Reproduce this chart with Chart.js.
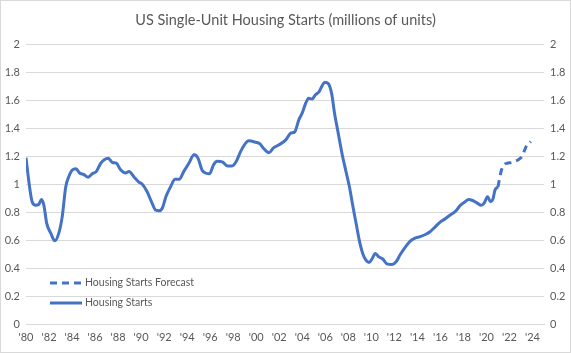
<!DOCTYPE html>
<html>
<head>
<meta charset="utf-8">
<script src="https://cdn.jsdelivr.net/npm/chart.js@4.4.1/dist/chart.umd.min.js"></script>
<style>
  html, body { margin: 0; padding: 0; background: #fff; }
  #wrap { position: relative; width: 571px; height: 353px; }
  #frame { position: absolute; left: 0; top: 0; width: 571px; height: 353px; box-sizing: border-box; border: 1px solid #d9d9d9; pointer-events: none; }
</style>
</head>
<body>
<div id="wrap">
  <canvas id="chart" width="571" height="353"></canvas>
  <div id="frame"></div>
</div>
<script>
// Housing starts (millions of units)
const years = [
  1980.0, 1980.2, 1980.4, 1980.55, 1980.85, 1981.1, 1981.35, 1981.55, 1981.8, 1982.15,
  1982.5, 1982.85, 1983.15, 1983.45, 1983.75, 1984.0, 1984.35, 1984.65, 1985.0, 1985.4,
  1985.75, 1986.1, 1986.5, 1986.8, 1987.15, 1987.5, 1987.85, 1988.2, 1988.65, 1988.95,
  1989.4, 1989.8, 1990.1, 1990.5, 1990.95, 1991.25, 1991.55, 1991.85, 1992.15, 1992.55,
  1992.95, 1993.3, 1993.7, 1994.15, 1994.6, 1994.95, 1995.3, 1995.6, 1995.95, 1996.3,
  1996.6, 1997.05, 1997.5, 1997.9, 1998.25, 1998.65, 1999.05, 1999.35, 1999.95, 2000.3,
  2000.65, 2001.1, 2001.5, 2001.95, 2002.55, 2003.0, 2003.35, 2003.7, 2004.0, 2004.3,
  2004.55, 2004.85, 2005.15, 2005.45, 2005.7, 2005.95, 2006.25, 2006.55, 2006.8, 2007.1,
  2007.45, 2007.8, 2008.1, 2008.4, 2008.7, 2008.95, 2009.25, 2009.55, 2009.8, 2010.05,
  2010.35, 2010.65, 2011.0, 2011.35, 2011.8, 2012.15, 2012.5, 2012.95, 2013.4, 2013.8,
  2014.25, 2014.7, 2015.1, 2015.55, 2016.0, 2016.45, 2016.85, 2017.3, 2017.75, 2018.15,
  2018.45, 2018.75, 2019.2, 2019.55, 2019.8, 2020.1, 2020.35, 2020.55, 2020.75, 2021.0
];
const starts = [
  1.19, 1.05, 0.93, 0.87, 0.85, 0.855, 0.89, 0.85, 0.72, 0.65,
  0.595, 0.65, 0.77, 0.98, 1.06, 1.10, 1.11, 1.08, 1.07, 1.05,
  1.075, 1.09, 1.15, 1.175, 1.185, 1.155, 1.15, 1.105, 1.08, 1.09,
  1.05, 1.015, 1.0, 0.95, 0.865, 0.815, 0.81, 0.83, 0.91, 0.98,
  1.035, 1.035, 1.09, 1.15, 1.21, 1.185, 1.10, 1.08, 1.075, 1.14,
  1.165, 1.16, 1.13, 1.13, 1.16, 1.235, 1.29, 1.31, 1.30, 1.29,
  1.255, 1.225, 1.26, 1.28, 1.315, 1.365, 1.375, 1.46, 1.51, 1.58,
  1.615, 1.61, 1.64, 1.66, 1.70, 1.73, 1.72, 1.65, 1.51, 1.375,
  1.22, 1.09, 0.98, 0.84, 0.71, 0.60, 0.505, 0.455, 0.44, 0.465,
  0.505, 0.48, 0.465, 0.43, 0.425, 0.445, 0.495, 0.55, 0.595, 0.615,
  0.625, 0.64, 0.66, 0.695, 0.73, 0.755, 0.78, 0.805, 0.85, 0.875,
  0.89, 0.885, 0.865, 0.85, 0.865, 0.91, 0.875, 0.89, 0.96, 0.98
];
const forecastYears = [2021.0, 2021.3, 2021.55, 2021.8, 2022.2, 2022.65, 2023.1, 2023.45, 2023.85];
const forecastStarts = [0.98, 1.10, 1.14, 1.15, 1.155, 1.17, 1.20, 1.27, 1.305];

const xTickYears = [1980, 1982, 1984, 1986, 1988, 1990, 1992, 1994, 1996, 1998, 2000,
  2002, 2004, 2006, 2008, 2010, 2012, 2014, 2016, 2018, 2020, 2022, 2024];
const yTicks = [0, 0.2, 0.4, 0.6, 0.8, 1, 1.2, 1.4, 1.6, 1.8, 2];

const blue = '#4472c4';
const textColor = '#595959';
const gridColor = '#d9d9d9';
const fontFamily = 'Lato, "Open Sans", sans-serif';

const pts = (xs, ys) => xs.map((x, i) => ({ x: x, y: ys[i] }));
const yLabel = v => String(Math.round(v * 10) / 10);

// legend drawn inside the plot area, bottom-left, like the original
const insideLegend = {
  id: 'insideLegend',
  afterDraw(chart) {
    const ctx = chart.ctx;
    const area = chart.chartArea;
    ctx.save();
    ctx.font = '10.5px ' + fontFamily;
    ctx.textBaseline = 'middle';
    chart.data.datasets.forEach((ds, i) => {
      const y = area.bottom - 41 + i * 20;
      const x0 = area.left + 24;
      ctx.strokeStyle = ds.borderColor;
      ctx.lineWidth = ds.borderWidth;
      ctx.lineCap = 'butt';
      ctx.setLineDash(ds.borderDash || []);
      ctx.beginPath();
      ctx.moveTo(x0, y);
      ctx.lineTo(x0 + 32, y);
      ctx.stroke();
      ctx.setLineDash([]);
      ctx.fillStyle = textColor;
      ctx.fillText(ds.label, x0 + 35, y);
    });
    ctx.restore();
  }
};

new Chart(document.getElementById('chart'), {
  type: 'line',
  data: {
    datasets: [
      {
        label: 'Housing Starts Forecast',
        data: pts(forecastYears, forecastStarts),
        borderColor: blue,
        borderWidth: 3,
        borderDash: [7, 5],
        pointRadius: 0,
        cubicInterpolationMode: 'monotone',
        yAxisID: 'y'
      },
      {
        label: 'Housing Starts',
        data: pts(years, starts),
        borderColor: blue,
        borderWidth: 3,
        pointRadius: 0,
        cubicInterpolationMode: 'monotone',
        yAxisID: 'y'
      }
    ]
  },
  options: {
    responsive: false,
    animation: false,
    layout: { padding: { top: 1, left: 0, right: 0, bottom: 0 } },
    plugins: {
      legend: { display: false },
      tooltip: { enabled: false },
      title: {
        display: true,
        text: 'US Single-Unit Housing Starts (millions of units)',
        color: textColor,
        font: { family: fontFamily, size: 14.5, weight: 'normal' },
        padding: { top: 11, bottom: 15 }
      }
    },
    scales: {
      x: {
        type: 'linear',
        min: 1980,
        max: 2025,
        grid: { display: false, drawTicks: false },
        border: { display: true, color: gridColor },
        afterBuildTicks: s => { s.ticks = xTickYears.map(v => ({ value: v })); },
        ticks: {
          color: textColor,
          font: { family: fontFamily, size: 11 },
          padding: 7,
          maxRotation: 0,
          autoSkip: false,
          callback: v => "'" + String(v).slice(2)
        },
        afterFit: s => { s.height = 29; }
      },
      y: {
        position: 'left',
        min: 0,
        max: 2,
        grid: { color: gridColor, drawTicks: false },
        border: { display: false },
        afterBuildTicks: s => { s.ticks = yTicks.map(v => ({ value: v })); },
        ticks: {
          color: textColor,
          font: { family: fontFamily, size: 11 },
          padding: 6,
          callback: yLabel
        },
        afterFit: s => { s.width = 26; }
      },
      y2: {
        position: 'right',
        min: 0,
        max: 2,
        grid: { display: false, drawTicks: false },
        border: { display: false },
        afterBuildTicks: s => { s.ticks = yTicks.map(v => ({ value: v })); },
        ticks: {
          color: textColor,
          font: { family: fontFamily, size: 11 },
          padding: 6,
          callback: yLabel
        },
        afterFit: s => { s.width = 27; }
      }
    }
  },
  plugins: [insideLegend]
});
</script>
</body>
</html>
